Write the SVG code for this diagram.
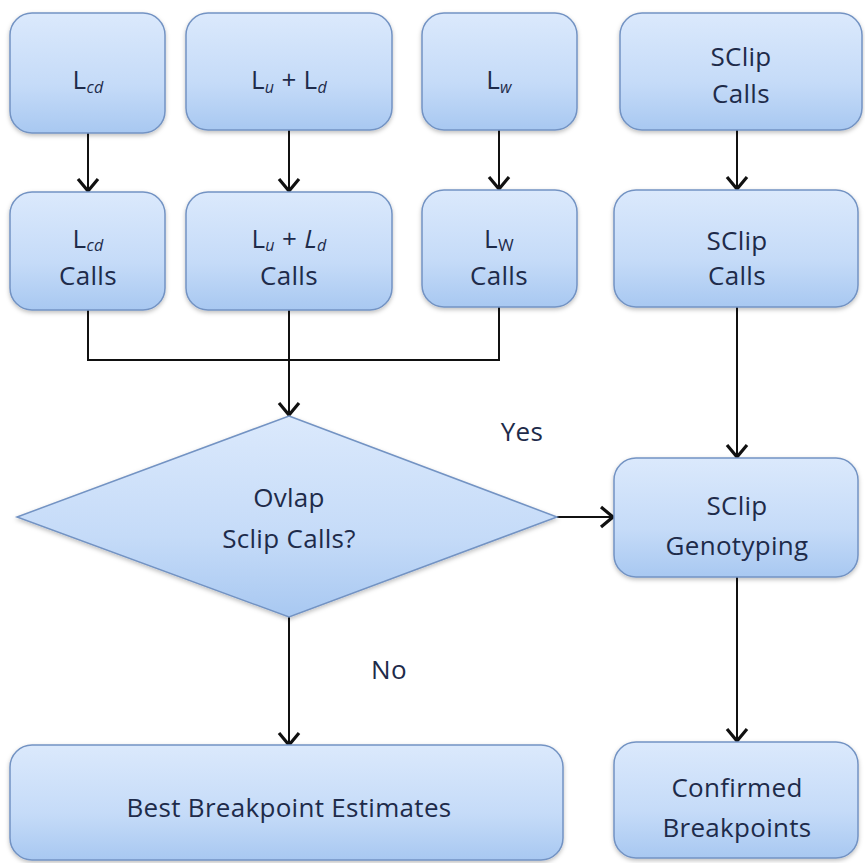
<svg xmlns="http://www.w3.org/2000/svg" width="865" height="863" viewBox="0 0 865 863">
<defs>
<linearGradient id="g" x1="0" y1="0" x2="0" y2="1">
<stop offset="0" stop-color="#dbe9fc"/>
<stop offset="0.6" stop-color="#c5dbf8"/>
<stop offset="1" stop-color="#a8c8f1"/>
</linearGradient>
<filter id="sh" x="-10%" y="-10%" width="120%" height="130%">
<feDropShadow dx="0" dy="2" stdDeviation="2" flood-color="#000" flood-opacity="0.25"/>
</filter>
<marker id="ah" viewBox="0 0 24 24" refX="19" refY="12" markerWidth="24" markerHeight="24" markerUnits="userSpaceOnUse" orient="auto">
<path d="M7,2 L19,12 L7,22" fill="none" stroke="#111" stroke-width="3.2"/>
</marker>
</defs>
<style>
.n{fill:url(#g);stroke:#7393c3;stroke-width:1.5;filter:url(#sh)}
.t{font-family:"Open Sans","Liberation Sans",sans-serif;font-size:26px;fill:#1e2b4a;text-anchor:middle;letter-spacing:0.3px}
.s{font-size:16px;font-style:italic}
.c{fill:none;stroke:#111;stroke-width:2}
</style>
<rect width="865" height="863" fill="#fff"/>
<g id="connectors">
<line class="c" x1="88" y1="133" x2="88" y2="191" marker-end="url(#ah)"/>
<line class="c" x1="289" y1="130" x2="289" y2="191" marker-end="url(#ah)"/>
<line class="c" x1="499" y1="130" x2="499" y2="189" marker-end="url(#ah)"/>
<line class="c" x1="737" y1="130" x2="737" y2="189" marker-end="url(#ah)"/>
<polyline class="c" points="88,310 88,360 499,360 499,307"/>
<line class="c" x1="289" y1="310" x2="289" y2="415" marker-end="url(#ah)"/>
<line class="c" x1="737" y1="307" x2="737" y2="457" marker-end="url(#ah)"/>
<line class="c" x1="557" y1="517" x2="613" y2="517" marker-end="url(#ah)"/>
<line class="c" x1="289" y1="617" x2="289" y2="745" marker-end="url(#ah)"/>
<line class="c" x1="737" y1="577" x2="737" y2="741" marker-end="url(#ah)"/>
<text class="t" x="522" y="441">Yes</text>
<text class="t" x="389" y="679">No</text>
</g>
<g id="n_lcd">
<rect class="n" x="10" y="13" width="155" height="120" rx="22"/>
<text class="t" x="88" y="89">L<tspan class="s" dy="4">cd</tspan></text>
</g>
<g id="n_lud">
<rect class="n" x="186" y="13" width="206" height="117" rx="22"/>
<text class="t" x="289" y="89">L<tspan class="s" dy="4">u</tspan><tspan dy="-4"> + L</tspan><tspan class="s" dy="4">d</tspan></text>
</g>
<g id="n_lw">
<rect class="n" x="422" y="13" width="155" height="117" rx="22"/>
<text class="t" x="499" y="89">L<tspan class="s" dy="4">w</tspan></text>
</g>
<g id="n_sclip1">
<rect class="n" x="620" y="13" width="242" height="117" rx="22"/>
<text class="t" x="741" y="66">SClip</text>
<text class="t" x="741" y="103">Calls</text>
</g>
<g id="n_lcdc">
<rect class="n" x="10" y="192" width="155" height="118" rx="22"/>
<text class="t" x="88" y="248">L<tspan class="s" dy="3">cd</tspan></text>
<text class="t" x="88" y="285">Calls</text>
</g>
<g id="n_ludc">
<rect class="n" x="186" y="192" width="206" height="118" rx="22"/>
<text class="t" x="289" y="248">L<tspan class="s" dy="3">u</tspan><tspan dy="-3"> + </tspan><tspan font-style="italic">L</tspan><tspan class="s" dy="3">d</tspan></text>
<text class="t" x="289" y="285">Calls</text>
</g>
<g id="n_lwc">
<rect class="n" x="422" y="190" width="155" height="117" rx="22"/>
<text class="t" x="499" y="248">L<tspan font-size="17px" dy="3">W</tspan></text>
<text class="t" x="499" y="285">Calls</text>
</g>
<g id="n_sclip2">
<rect class="n" x="614" y="190" width="244" height="117" rx="22"/>
<text class="t" x="737" y="250">SClip</text>
<text class="t" x="737" y="285">Calls</text>
</g>
<g id="n_ovlap">
<polygon class="n" points="289,416 557,517 289,617 17,517"/>
<text class="t" x="289" y="507">Ovlap</text>
<text class="t" x="289" y="548">Sclip Calls?</text>
</g>
<g id="n_geno">
<rect class="n" x="614" y="458" width="244" height="119" rx="22"/>
<text class="t" x="737" y="515">SClip</text>
<text class="t" x="737" y="555">Genotyping</text>
</g>
<g id="n_best">
<rect class="n" x="10" y="745" width="553" height="115" rx="22"/>
<text class="t" x="289" y="817">Best Breakpoint Estimates</text>
</g>
<g id="n_conf">
<rect class="n" x="614" y="742" width="244" height="116" rx="22"/>
<text class="t" x="737" y="797">Confirmed</text>
<text class="t" x="737" y="837">Breakpoints</text>
</g>
</svg>
